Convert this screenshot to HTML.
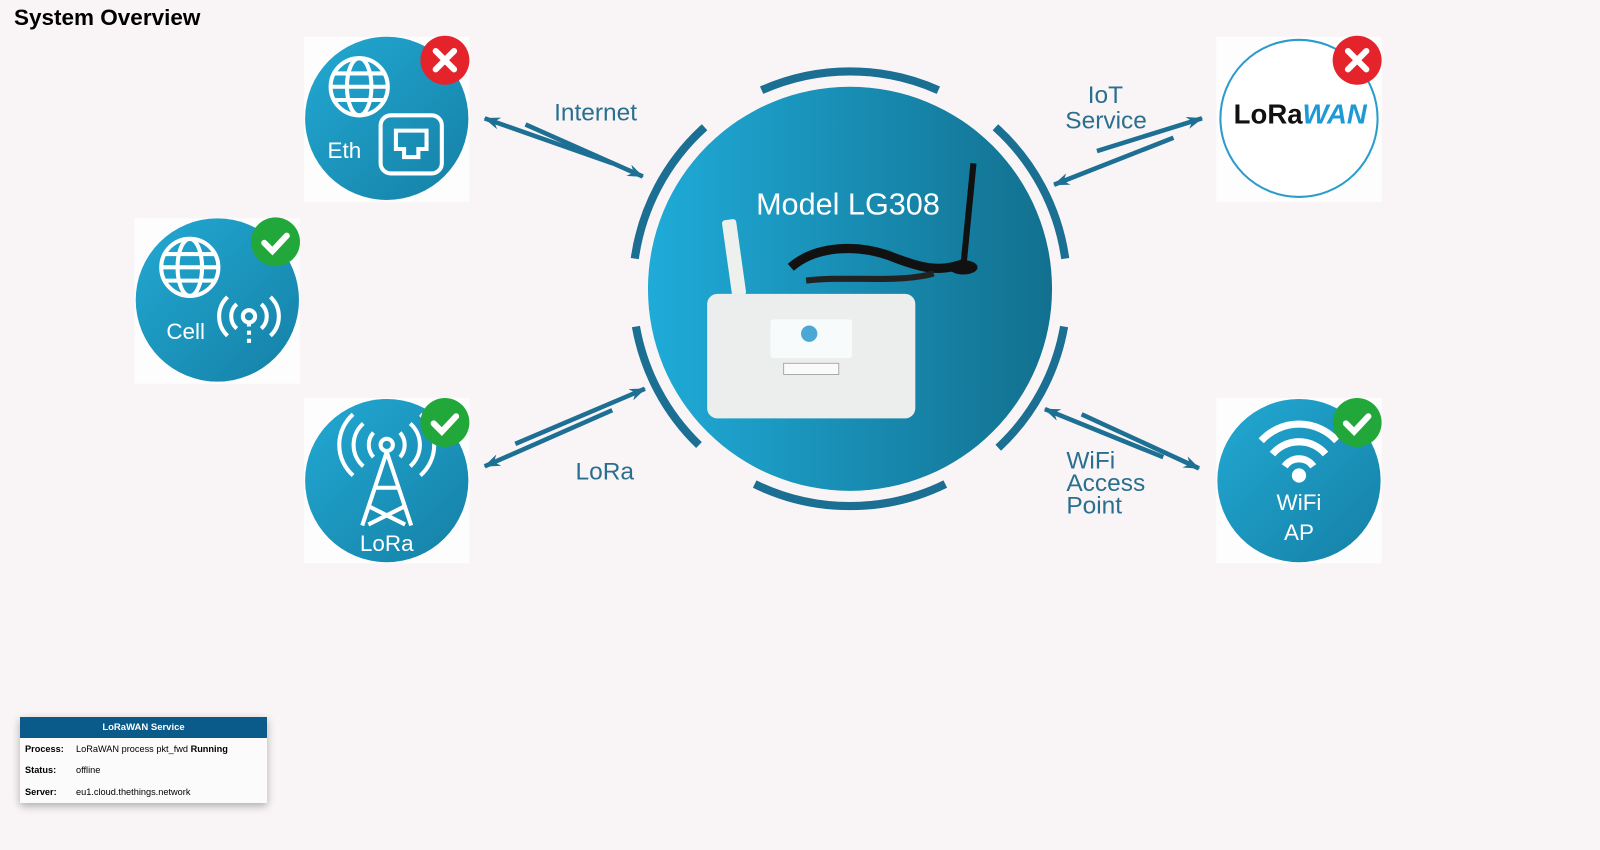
<!DOCTYPE html>
<html><head><meta charset="utf-8"><style>
body{margin:0;width:1600px;height:850px;background:#f9f5f6;font-family:"Liberation Sans",sans-serif;position:relative;overflow:hidden}
h1{position:absolute;left:14px;top:5px;margin:0;font-size:22.5px;font-weight:bold;color:#000}
table{position:absolute;left:20px;top:717px;width:247px;border-collapse:collapse;background:#fbfbfb;box-shadow:0 3px 8px rgba(0,0,0,.3);font-size:9.2px}
th{background:#0a5a8a;color:#fff;height:21px;font-size:9.5px;padding:0}
td{height:21.5px;padding:0 0 0 5px;white-space:nowrap}
td.k{font-weight:bold;width:46px}
</style></head><body>
<h1>System Overview</h1>
<svg width="1600" height="850" viewBox="0 0 1568 833" style="position:absolute;left:0;top:0" font-family="Liberation Sans, sans-serif">
<defs>
<linearGradient id="g" x1="0" x2="1" y1="0" y2="0"><stop offset="0" stop-color="#1fabd8"/><stop offset="1" stop-color="#12708f"/></linearGradient>
<linearGradient id="s" x1="0" x2="1" y1="0" y2="1"><stop offset="0" stop-color="#22a9d3"/><stop offset="1" stop-color="#1580a6"/></linearGradient>
<marker id="ah" markerWidth="16" markerHeight="12" refX="15" refY="6" orient="auto" markerUnits="userSpaceOnUse"><path d="M0,0 L16,6 L0,12 L5,6z" fill="#1d6f93"/></marker>
</defs>
<circle cx="833" cy="283" r="198" fill="url(#g)"/>
<g fill="none" stroke="#1a6f93" stroke-width="8">
<path d="M746.4,88.4 A213,213 0 0 1 919.6,88.4"/>
<path d="M975.5,124.7 A213,213 0 0 1 1043.9,253.4"/>
<path d="M1042.8,320 A213,213 0 0 1 978.3,438.8"/>
<path d="M926.4,474.4 A213,213 0 0 1 739.6,474.4"/>
<path d="M685,436.2 A213,213 0 0 1 623.2,320"/>
<path d="M622.1,253.4 A213,213 0 0 1 690.5,124.7"/>
</g>
<text x="831" y="210" text-anchor="middle" font-size="30" fill="#fff">Model LG308</text>
<rect x="712" y="215" width="14" height="75" rx="3" fill="#eef0ee" transform="rotate(-8 719 250)"/>
<path d="M775,262 C800,240 840,240 870,250 C900,262 920,268 945,258" stroke="#111" stroke-width="9" fill="none"/>
<path d="M790,275 C830,270 880,278 915,268" stroke="#222" stroke-width="6" fill="none"/>
<line x1="944" y1="262" x2="954" y2="160" stroke="#111" stroke-width="6"/>
<ellipse cx="944" cy="262" rx="14" ry="7" fill="#111"/>
<rect x="693" y="288" width="204" height="122" rx="10" fill="#eceeed"/>
<rect x="755" y="313" width="80" height="38" rx="3" fill="#f8fbfc"/>
<circle cx="793" cy="327" r="8" fill="#4aa8d4"/>
<rect x="768" y="356" width="54" height="11" fill="#fafafa" stroke="#999" stroke-width=".8"/>
<g stroke="#1d6f93" stroke-width="4.5" fill="none">
<line x1="515" y1="122" x2="630" y2="173" marker-end="url(#ah)"/>
<line x1="600" y1="160" x2="475" y2="116" marker-end="url(#ah)"/>
<line x1="1075" y1="148" x2="1178" y2="116" marker-end="url(#ah)"/>
<line x1="1150" y1="135" x2="1033" y2="181" marker-end="url(#ah)"/>
<line x1="505" y1="435" x2="632" y2="381" marker-end="url(#ah)"/>
<line x1="600" y1="402" x2="475" y2="457" marker-end="url(#ah)"/>
<line x1="1060" y1="406" x2="1175" y2="459" marker-end="url(#ah)"/>
<line x1="1140" y1="448" x2="1024" y2="401" marker-end="url(#ah)"/>
</g>
<g fill="#2a6f8f" font-size="24">
<text x="543" y="118">Internet</text>
<text x="1066" y="101">IoT</text>
<text x="1044" y="126">Service</text>
<text x="564" y="470">LoRa</text>
<text x="1045" y="459">WiFi</text>
<text x="1045" y="481">Access</text>
<text x="1045" y="503">Point</text>
</g>
<rect x="298" y="36" width="162" height="162" fill="#fdfdfd"/>
<circle cx="379" cy="116" r="80" fill="url(#s)"/>
<g stroke="#fff" stroke-width="4" fill="none">
<circle cx="352" cy="85" r="28"/><ellipse cx="352" cy="85" rx="12" ry="28"/><line x1="324" y1="85" x2="380" y2="85"/><line x1="328" y1="72" x2="376" y2="72"/><line x1="328" y1="98" x2="376" y2="98"/>
<rect x="373" y="113" width="60" height="57" rx="10"/><path d="M388,128 h30 v18 h-8 v8 h-14 v-8 h-8z"/>
</g>
<text x="321" y="155" fill="#fff" font-size="22">Eth</text>
<rect x="132" y="214" width="162" height="162" fill="#fdfdfd"/>
<circle cx="213" cy="294" r="80" fill="url(#s)"/>
<g stroke="#fff" stroke-width="4" fill="none">
<circle cx="186" cy="262" r="28"/><ellipse cx="186" cy="262" rx="12" ry="28"/><line x1="158" y1="262" x2="214" y2="262"/><line x1="162" y1="249" x2="210" y2="249"/><line x1="162" y1="275" x2="210" y2="275"/>
<circle cx="244" cy="310" r="6"/><path d="M232,298 a16,16 0 0 0 0,24 M256,298 a16,16 0 0 1 0,24 M223,291 a26,26 0 0 0 0,38 M265,291 a26,26 0 0 1 0,38"/><line x1="244" y1="316" x2="244" y2="340" stroke-dasharray="4 4"/>
</g>
<text x="163" y="332" fill="#fff" font-size="22">Cell</text>
<rect x="298" y="390" width="162" height="162" fill="#fdfdfd"/>
<circle cx="379" cy="471" r="80" fill="url(#s)"/>
<g stroke="#fff" stroke-width="4" fill="none">
<circle cx="379" cy="436" r="6"/><path d="M366,424 a18,18 0 0 0 0,24 M392,424 a18,18 0 0 1 0,24 M356,415 a28,28 0 0 0 0,42 M402,415 a28,28 0 0 1 0,42 M346,406 a40,40 0 0 0 0,60 M412,406 a40,40 0 0 1 0,60"/>
<path d="M379,443 L355,515 M379,443 L403,515 M367,478 h24 M361,496 L397,514 M397,496 L361,514"/>
</g>
<text x="379" y="540" text-anchor="middle" fill="#fff" font-size="22">LoRa</text>
<rect x="1192" y="36" width="162" height="162" fill="#fdfdfd"/>
<circle cx="1273" cy="116" r="77" fill="#fff" stroke="#2a9bcc" stroke-width="2"/>
<text x="1209" y="121" font-size="27" font-weight="bold" fill="#111">Lo<tspan>Ra</tspan><tspan fill="#1d9ad6" font-style="italic">WAN</tspan></text>
<rect x="1192" y="390" width="162" height="162" fill="#fdfdfd"/>
<circle cx="1273" cy="471" r="80" fill="url(#s)"/>
<g stroke="#fff" stroke-width="7" fill="none"><path d="M1236,432 a50,50 0 0 1 74,0 M1247,445 a34,34 0 0 1 52,0 M1259,457 a17,17 0 0 1 28,0"/></g>
<circle cx="1273" cy="466" r="7" fill="#fff"/>
<text x="1273" y="500" text-anchor="middle" fill="#fff" font-size="22">WiFi</text>
<text x="1273" y="529" text-anchor="middle" fill="#fff" font-size="22">AP</text>
<g stroke="#fff" stroke-width="6" stroke-linecap="round" fill="none">
<circle cx="436" cy="59" r="24" fill="#e5232b" stroke="none"/><path d="M427,50 l18,18 M445,50 l-18,18"/>
<circle cx="1330" cy="59" r="24" fill="#e5232b" stroke="none"/><path d="M1321,50 l18,18 M1339,50 l-18,18"/>
<circle cx="270" cy="237" r="24" fill="#22a83a" stroke="none"/><path d="M259,238 l8,8 l14,-15"/>
<circle cx="436" cy="414" r="24" fill="#22a83a" stroke="none"/><path d="M425,415 l8,8 l14,-15"/>
<circle cx="1330" cy="414" r="24" fill="#22a83a" stroke="none"/><path d="M1319,415 l8,8 l14,-15"/>
</g>
</svg>
<table>
<tr><th colspan="2">LoRaWAN Service</th></tr>
<tr><td class="k">Process:</td><td>LoRaWAN process pkt_fwd <b>Running</b></td></tr>
<tr><td class="k">Status:</td><td>offline</td></tr>
<tr><td class="k">Server:</td><td>eu1.cloud.thethings.network</td></tr>
</table>
</body></html>
